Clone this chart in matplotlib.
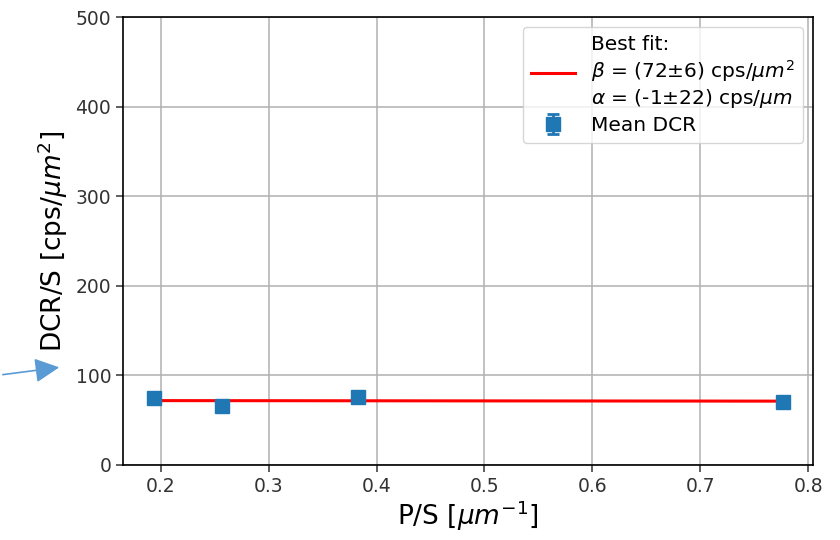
import matplotlib
matplotlib.use("Agg")
import matplotlib.pyplot as plt

# Mean DCR per unit area vs perimeter/area
ps = [0.194, 0.257, 0.383, 0.777]
dcr = [75, 66, 76, 70]
dcr_err = [4, 4, 4, 6]

# Linear fit DCR/S = beta + alpha * P/S
beta = 72
alpha = -1
fit_label = ("Best fit:\n$\\beta$ = (72$\\pm$6) cps/$\\mu m^2$\n"
             "$\\alpha$ = (-1$\\pm$22) cps/$\\mu m$")

fig = plt.figure(figsize=(8.4, 5.4), dpi=100)
ax = fig.add_axes([0.1464, 0.139, 0.8216, 0.8295])

fit_x = [ps[0], ps[-1]]
fit_y = [beta + alpha * v for v in fit_x]
ax.plot(fit_x, fit_y, color="red", lw=2.2, label=fit_label, zorder=3)
ax.errorbar(ps, dcr, yerr=dcr_err, fmt="s", color="#1f77b4", ms=10,
            elinewidth=2, capsize=4, capthick=2, label="Mean DCR", zorder=4)

ax.set_ylim(0, 500)
ax.set_xlim(0.165, 0.8046)
ax.set_xticks([0.2, 0.3, 0.4, 0.5, 0.6, 0.7, 0.8])
ax.set_yticks([0, 100, 200, 300, 400, 500])
ax.grid(True, color="#b0b0b0", lw=1.1)
ax.tick_params(labelsize=13.5, length=5, width=1.1, colors="#333333", labelcolor="#333333")
for s in ax.spines.values():
    s.set_linewidth(1.2)

ax.set_xlabel("P/S [$\\mu m^{-1}$]", fontsize=19, labelpad=2)
ax.set_ylabel("DCR/S [cps/$\\mu m^2$]", fontsize=19, labelpad=4)

leg = ax.legend(loc="upper right", fontsize=14.5, framealpha=0.8,
                borderaxespad=0.5, handlelength=2.2, labelspacing=0.3)

# annotation arrow coming in from the left edge
fig.add_artist(matplotlib.patches.FancyArrowPatch(
    (0, 540 - 375), (62, 540 - 367), transform=None,
    arrowstyle="-|>,head_length=15,head_width=7.5", color="#5b9bd5", lw=1.2,
    mutation_scale=1))

fig.savefig("out.png", dpi=100)
